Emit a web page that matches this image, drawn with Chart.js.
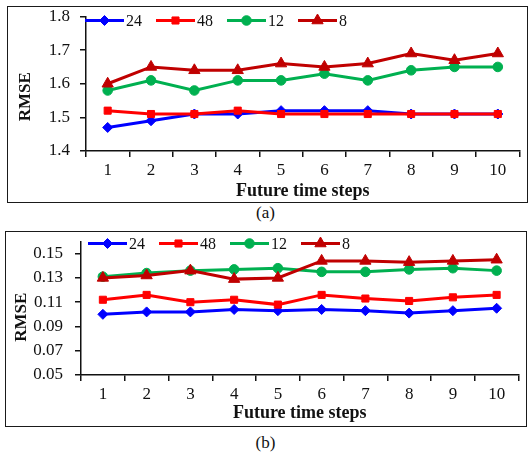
<!DOCTYPE html>
<html><head><meta charset="utf-8">
<script src="https://cdn.jsdelivr.net/npm/chart.js@4"></script>
<style>
html,body{margin:0;padding:0;background:#fff;}
body{width:531px;height:457px;position:relative;overflow:hidden;font-family:"Liberation Serif","Times New Roman",serif;}
.box{position:absolute;border:1.5px solid #1a1a1a;}
.box canvas{display:block;}
.cap{position:absolute;width:531px;left:0;text-align:center;font-size:17px;color:#111;line-height:20px;}
</style></head><body>
<div class="box" style="left:7px;top:6px;"><canvas id="cA" width="519" height="195"></canvas></div>
<div class="cap" style="top:203px;">(a)</div>
<div class="box" style="left:5px;top:231px;"><canvas id="cB" width="520" height="194"></canvas></div>
<div class="cap" style="top:433px;">(b)</div>
<script>
// ---- data ----
const steps = ['1','2','3','4','5','6','7','8','9','10'];
const seriesNames = ['24','48','12','8'];
// panel (a)
const a24 = [1.47,1.49,1.51,1.51,1.52,1.52,1.52,1.51,1.51,1.51];
const a48 = [1.52,1.51,1.51,1.52,1.51,1.51,1.51,1.51,1.51,1.51];
const a12 = [1.58,1.61,1.58,1.61,1.61,1.63,1.61,1.64,1.65,1.65];
const a8  = [1.60,1.65,1.64,1.64,1.66,1.65,1.66,1.69,1.67,1.69];
const yTicksA = [1.4,1.5,1.6,1.7,1.8];
// panel (b)
const b24 = [0.100,0.102,0.102,0.104,0.103,0.104,0.103,0.101,0.103,0.105];
const b48 = [0.112,0.116,0.110,0.112,0.108,0.116,0.113,0.111,0.114,0.116];
const b12 = [0.131,0.134,0.136,0.137,0.138,0.135,0.135,0.137,0.138,0.136];
const b8  = [0.130,0.132,0.136,0.129,0.130,0.144,0.144,0.143,0.144,0.145];
const yTicksB = [0.05,0.07,0.09,0.11,0.13,0.15];

// ---- styles ----
const colors = ['#0000FF','#FF0000','#00B050','#C00000'];
const pStyles = ['rectRot','rect','circle','triangle'];
const pRadii = [5,5,4.8,6.5];
const FONT = '"Liberation Serif","Times New Roman",serif';

function makeDatasets(arrs){
  return arrs.map((d,i)=>({
    label: seriesNames[i], data: d,
    borderColor: colors[i], backgroundColor: colors[i],
    pointBackgroundColor: colors[i], pointBorderColor: colors[i],
    pointStyle: pStyles[i], pointRadius: pRadii[i], pointBorderWidth: 1,
    borderWidth: 3, tension: 0, order: 4 - i
  }));
}

const lineLegend = {
  id:'lineLegend',
  afterDatasetsDraw(chart, args, opts){
    const ctx = chart.ctx, ca = chart.chartArea;
    let x = ca.left + opts.dx; const y = ca.top + opts.dy;
    ctx.save();
    ctx.font = '16px ' + FONT; ctx.textBaseline = 'middle'; ctx.textAlign = 'left';
    chart.data.datasets.forEach(ds=>{
      ctx.strokeStyle = ds.borderColor; ctx.lineWidth = ds.borderWidth;
      ctx.beginPath(); ctx.moveTo(x,y); ctx.lineTo(x+opts.lineLen,y); ctx.stroke();
      ctx.fillStyle = ds.pointBackgroundColor; ctx.strokeStyle = ds.pointBorderColor; ctx.lineWidth = 1;
      Chart.helpers.drawPoint(ctx,{pointStyle:ds.pointStyle,radius:ds.pointRadius,rotation:0,borderWidth:1},x+opts.lineLen/2,y);
      ctx.fillStyle = '#111';
      ctx.fillText(ds.label, x+opts.lineLen+2, y+1);
      x += opts.lineLen + 2 + ctx.measureText(ds.label).width + opts.gap;
    });
    ctx.restore();
  }
};
const yTitle = {
  id:'yTitle',
  afterDraw(chart, args, opts){
    const ctx = chart.ctx, ca = chart.chartArea;
    ctx.save();
    ctx.translate(opts.x, (ca.top+ca.bottom)/2 + opts.dy);
    ctx.rotate(-Math.PI/2);
    ctx.font = 'bold 17px ' + FONT; ctx.fillStyle = '#111';
    ctx.textAlign = 'center'; ctx.textBaseline = 'middle';
    ctx.fillText('RMSE', 0, 0);
    ctx.restore();
  }
};

function makeChart(id, arrs, yMin, yMax, yTicks, dec, cfg){
  return new Chart(document.getElementById(id), {
    type:'line',
    data:{ labels: steps, datasets: makeDatasets(arrs) },
    options:{
      responsive:false, maintainAspectRatio:false, animation:false,
      devicePixelRatio:1,
      layout:{ padding:{ left:0, top:0, right:cfg.right, bottom:0 } },
      plugins:{ legend:{display:false}, tooltip:{enabled:false},
        lineLegend:cfg.legend, yTitle:cfg.yTitle },
      scales:{
        x:{
          type:'category', offset:true,
          grid:{ offset:true, drawOnChartArea:false, drawTicks:true, tickLength:6, color:'#111', lineWidth:1.5 },
          border:{ display:true, color:'#111', width:1.5 },
          ticks:{ font:{family:FONT,size:17}, color:'#111', padding:3, maxRotation:0 },
          title:{ display:true, text:'Future time steps', font:{family:FONT,size:18,weight:'bold'}, color:'#111', padding:{top:0,bottom:cfg.titlePad} },
          afterFit(s){ s.height = cfg.xh; }
        },
        y:{
          min:yMin, max:yMax,
          afterBuildTicks(s){ s.ticks = yTicks.map(v=>({value:v})); },
          grid:{ drawOnChartArea:false, drawTicks:true, tickLength:6, color:'#111', lineWidth:1.5 },
          border:{ display:true, color:'#111', width:1.5 },
          ticks:{ font:{family:FONT,size:17}, color:'#111', padding:cfg.yPad, callback:(v)=>Number(v).toFixed(dec) },
          afterFit(s){ s.width = cfg.yw; s.paddingTop = cfg.top; s.paddingBottom = 0; }
        }
      }
    },
    plugins:[lineLegend, yTitle]
  });
}

makeChart('cA',[a24,a48,a12,a8],1.4,1.8,yTicksA,1,{
  top:9.5, right:4, xh:51, yw:78, yPad:10, titlePad:0,
  legend:{dx:-1, dy:4, lineLen:39, gap:14},
  yTitle:{x:17.5, dy:13}
});
makeChart('cB',[b24,b48,b12,b8],0.05,0.16,yTicksB,2,{
  top:9.5, right:1, xh:51, yw:75, yPad:12, titlePad:2,
  legend:{dx:7, dy:2, lineLen:39, gap:14},
  yTitle:{x:15.5, dy:9}
});
</script>
</body></html>
